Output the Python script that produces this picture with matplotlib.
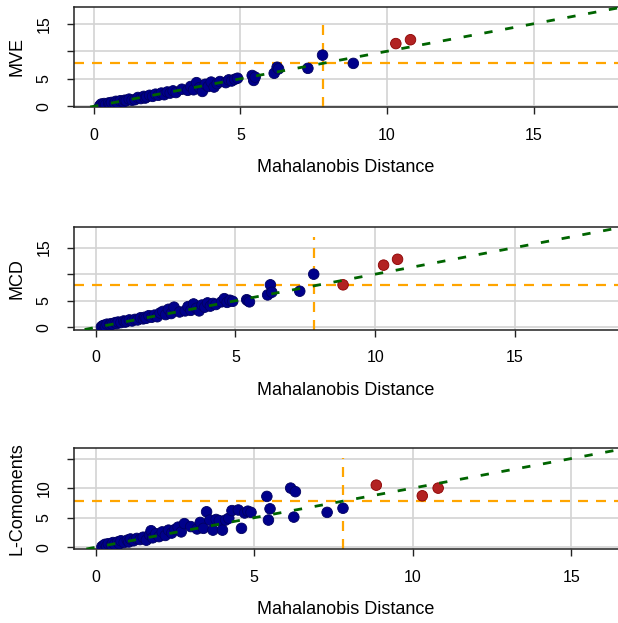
import numpy as np
import matplotlib
matplotlib.use("Agg")
from matplotlib import pyplot as plt

plt.rcParams["font.family"] = ["Liberation Sans", "DejaVu Sans"]

# Mahalanobis distance of every observation (shared by all three panels)
md = [0.2, 0.25, 0.3, 0.35, 0.4, 0.5, 0.55, 0.6, 0.7, 0.75, 0.8, 0.9, 1.0, 1.05, 1.1,
      1.2, 1.3, 1.4, 1.5, 1.6, 1.7, 1.75, 1.8, 1.9, 2.0, 2.1, 2.2, 2.3, 2.4, 2.5,
      2.6, 2.7, 2.8, 3.0, 3.2, 3.3, 3.4, 3.5, 3.6, 3.7, 3.8, 3.9, 4.0, 4.1, 4.2,
      4.3, 4.5, 4.6, 4.7, 4.8, 4.9, 5.4, 5.45, 5.5, 6.15, 6.25, 6.3, 7.3, 7.8,
      8.85, 10.3, 10.8]

# robust distances
mve = [0.1, 0.4, 0.2, 0.5, 0.3, 0.6, 0.4, 0.7, 0.6, 0.9, 0.7, 1.0, 0.8, 1.1, 1.0,
       1.3, 1.1, 1.2, 1.6, 1.4, 1.8, 1.5, 1.7, 2.0, 1.8, 2.2, 2.0, 2.4, 2.1, 2.6,
       2.4, 2.8, 2.5, 3.1, 2.9, 3.6, 3.0, 4.3, 3.4, 2.7, 4.0, 3.6, 4.4, 3.5, 4.1,
       4.5, 4.3, 4.8, 4.6, 4.9, 5.1, 5.6, 4.7, 5.3, 6.0, 7.1, 6.8, 6.9, 9.3,
       7.8, 11.4, 12.1]
mcd = [0.1, 0.3, 0.4, 0.2, 0.6, 0.5, 0.7, 0.6, 0.9, 0.7, 1.0, 0.9, 1.2, 1.0, 1.1,
       1.4, 1.2, 1.5, 1.4, 1.8, 1.6, 1.9, 1.7, 2.2, 1.9, 2.3, 2.0, 2.7, 3.0, 2.4,
       3.4, 2.6, 3.8, 2.9, 3.1, 3.9, 3.2, 4.4, 3.6, 3.1, 4.2, 3.8, 4.6, 4.0, 4.5,
       4.3, 4.8, 5.4, 4.7, 5.1, 4.9, 5.2, 5.0, 4.8, 6.1, 8.0, 6.6, 6.8, 10.0,
       8.0, 11.7, 12.8]
lcom = [0.1, 0.3, 0.5, 0.2, 0.6, 0.4, 0.8, 0.5, 0.9, 0.6, 1.1, 0.8, 1.2, 0.9, 1.4,
        1.1, 1.5, 1.3, 1.7, 1.2, 2.1, 2.8, 1.6, 2.3, 1.8, 2.6, 2.0, 2.9, 2.4, 3.0,
        3.4, 2.6, 4.0, 3.5, 3.1, 4.2, 3.2, 6.0, 4.6, 2.9, 4.7, 4.5, 2.9, 4.6, 4.9,
        6.2, 6.3, 3.2, 5.8, 6.1, 5.9, 8.6, 4.6, 6.5, 10.0, 5.1, 9.4, 5.9, 6.6,
        10.5, 8.7, 10.0]

# number of flagged outliers (largest distances) per panel
n_flagged = [2, 3, 3]
panel_names = ["MVE", "MCD", "L-Comoments"]
cutoff_x = 7.8
cutoff_y = 7.9

yticks = [0, 5, 10, 15]
ytick_labels = [["0", "5", "", "15"], ["0", "5", "", "15"], ["0", "5", "10", ""]]
xticks = [0, 5, 10, 15]
xlims = [(-0.68, 17.88), (-0.78, 18.69), (-0.68, 16.47)]
ylims = [(-0.13, 18.05), (-0.4, 18.87), (-0.29, 16.78)]

# axes boxes in pixels: top, bottom
boxes = [(7, 107), (227, 329.5), (448, 549)]

W, H = 618, 623
fig = plt.figure(figsize=(W / 100, H / 100), dpi=100)

for i, ys in enumerate([mve, mcd, lcom]):
    top, bot = boxes[i]
    ax = fig.add_axes([74 / W, 1 - bot / H, 544 / W, (bot - top) / H])

    x = np.array(md)
    y = np.array(ys)
    colours = np.array(["#00008B"] * len(x), dtype=object)
    edges = np.array(["#000060"] * len(x), dtype=object)
    colours[-n_flagged[i]:] = "#B22222"
    edges[-n_flagged[i]:] = "#8B0000"

    ax.set_xlim(*xlims[i])
    ax.set_ylim(*ylims[i])
    ax.set_xticks(xticks)
    ax.set_yticks(yticks)
    ax.set_yticklabels(ytick_labels[i], rotation=90, va="center")
    ax.grid(True, color="#D3D3D3", lw=1.2, zorder=0)
    ax.set_axisbelow(True)

    ax.axhline(cutoff_y, color="#FFA500", lw=1.6, dashes=(4.5, 3.6), zorder=2)
    ax.axvline(cutoff_x, ymax=0.9, color="#FFA500", lw=1.6, dashes=(4.5, 3.6), zorder=2)
    ax.scatter(x, y, s=58, c=list(colours), edgecolors=list(edges), linewidths=0.6, zorder=3)
    ax.axline((0, 0), slope=1, color="#006400", lw=2.0, dashes=(3.0, 4.6), zorder=4)

    ax.spines["right"].set_visible(False)
    for s in ["left", "top", "bottom"]:
        ax.spines[s].set_color("#222222")
        ax.spines[s].set_linewidth(1.1)
    ax.tick_params(axis="both", length=5, width=1, labelsize=11.5, color="#222222")
    ax.tick_params(axis="x", pad=10)
    ax.tick_params(axis="y", pad=11)

    ax.set_xlabel("Mahalanobis Distance", fontsize=13, labelpad=12)
    ax.set_ylabel(panel_names[i], fontsize=13, va="center")
    ax.yaxis.set_label_coords(-0.105, 0.5)

fig.savefig("out.png", dpi=100)
